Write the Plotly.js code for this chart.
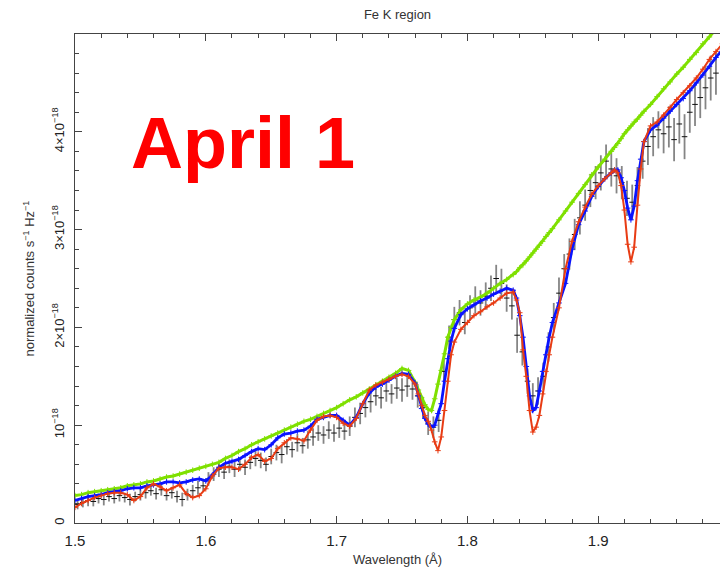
<!DOCTYPE html>
<html>
<head>
<meta charset="utf-8">
<script src="https://cdn.plot.ly/plotly-3.0.1.min.js"></script>
<style>html,body{margin:0;padding:0;background:#fff;}#chart{width:720px;height:570px;}</style>
</head>
<body>
<div id="chart"></div>
<script>
// Observed spectrum (wavelength in Å, flux in units of 1e-18)
const wave = [1.502,1.506,1.510,1.514,1.518,1.522,1.526,1.530,1.534,1.538,1.542,1.546,1.550,1.554,1.558,1.562,1.566,1.570,1.574,1.578,1.582,1.586,1.590,1.594,1.598,
1.602,1.606,1.610,1.614,1.618,1.622,1.626,1.630,1.634,1.638,1.642,1.646,1.650,1.654,1.658,1.662,1.666,1.670,1.674,1.678,1.682,1.686,1.690,1.694,1.698,
1.702,1.706,1.710,1.714,1.718,1.722,1.726,1.730,1.734,1.738,1.742,1.746,1.750,1.754,1.758,1.762,1.766,1.770,1.774,1.778,1.782,1.786,1.790,1.794,1.798,
1.802,1.806,1.810,1.814,1.818,1.822,1.826,1.830,1.834,1.838,1.842,1.846,1.850,1.854,1.858,1.862,1.866,1.870,1.874,1.878,1.882,1.886,1.890,1.894,1.898,
1.902,1.906,1.910,1.914,1.918,1.922,1.926,1.930,1.934,1.938,1.942,1.946,1.950,1.954,1.958,1.962,1.966,1.970,1.974,1.978,1.982,1.986,1.990];
const flux = [0.19,0.21,0.23,0.22,0.25,0.24,0.27,0.25,0.28,0.26,0.24,0.27,0.29,0.31,0.33,0.30,0.34,0.28,0.31,0.27,0.24,0.29,0.33,0.36,0.38,
0.45,0.50,0.55,0.52,0.58,0.55,0.60,0.57,0.62,0.66,0.64,0.60,0.68,0.72,0.70,0.78,0.75,0.82,0.79,0.85,0.88,0.92,0.90,0.95,0.92,
0.97,0.94,0.99,1.08,1.12,1.18,1.24,1.30,1.28,1.35,1.32,1.38,1.36,1.40,1.37,1.30,1.18,1.02,0.98,1.05,1.55,1.90,2.08,2.15,2.05,
2.20,2.28,2.25,2.32,2.40,2.50,2.45,2.30,2.22,1.92,1.75,1.45,1.30,1.35,1.50,1.80,2.10,2.35,2.60,2.75,2.95,3.12,3.25,3.40,3.48,
3.58,3.70,3.62,3.55,3.48,3.32,3.28,3.45,3.70,3.85,3.95,4.02,3.98,4.05,3.92,4.08,3.95,4.20,4.28,4.35,4.45,4.55,4.60];
const fluxErr = [0.05,0.05,0.06,0.05,0.05,0.06,0.05,0.05,0.06,0.05,0.06,0.05,0.06,0.06,0.05,0.06,0.06,0.05,0.06,0.06,0.07,0.06,0.06,0.07,0.06,
0.07,0.07,0.08,0.07,0.07,0.08,0.07,0.08,0.07,0.08,0.08,0.07,0.08,0.08,0.09,0.08,0.08,0.09,0.08,0.09,0.09,0.08,0.09,0.09,0.09,
0.10,0.09,0.10,0.10,0.11,0.10,0.11,0.10,0.11,0.11,0.10,0.11,0.12,0.11,0.11,0.12,0.11,0.12,0.11,0.12,0.13,0.12,0.13,0.13,0.12,
0.13,0.14,0.13,0.14,0.13,0.14,0.15,0.14,0.14,0.18,0.14,0.13,0.13,0.14,0.14,0.15,0.15,0.16,0.15,0.16,0.16,0.17,0.16,0.17,0.17,
0.18,0.17,0.18,0.18,0.17,0.18,0.18,0.19,0.18,0.19,0.20,0.19,0.20,0.21,0.22,0.20,0.23,0.21,0.22,0.21,0.22,0.23,0.22];

// Model curves (same wavelength grid)
const modelWave = [1.500,1.505,1.510,1.515,1.520,1.525,1.530,1.535,1.540,1.545,1.550,1.555,1.560,1.565,1.570,1.575,1.580,1.585,1.590,1.595,
1.600,1.605,1.610,1.615,1.620,1.625,1.630,1.635,1.640,1.645,1.650,1.655,1.660,1.665,1.670,1.675,1.680,1.685,1.690,1.695,
1.700,1.705,1.710,1.715,1.720,1.725,1.730,1.735,1.740,1.745,1.750,1.755,1.760,
1.7625,1.765,1.7675,1.770,1.7725,1.775,1.7775,1.780,1.7825,1.785,1.7875,1.790,
1.795,1.800,1.805,1.810,1.815,1.820,1.825,1.830,1.835,
1.8375,1.840,1.8425,1.845,1.8475,1.850,1.8525,1.855,1.8575,1.860,1.8625,1.865,
1.870,1.875,1.880,1.885,1.890,1.895,1.900,1.905,1.910,
1.9125,1.915,1.9175,1.920,1.9225,1.925,1.9275,1.930,1.9325,1.935,
1.940,1.945,1.950,1.955,1.960,1.965,1.970,1.975,1.980,1.985,1.990,1.995];
const greenModel = [0.28,0.29,0.31,0.32,0.33,0.34,0.35,0.36,0.38,0.39,0.40,0.42,0.43,0.45,0.47,0.48,0.50,0.52,0.54,0.56,
0.58,0.60,0.62,0.66,0.69,0.73,0.76,0.80,0.83,0.86,0.89,0.92,0.95,0.98,1.01,1.04,1.06,1.09,1.12,1.15,
1.18,1.22,1.26,1.29,1.33,1.37,1.41,1.45,1.49,1.53,1.58,1.56,1.44,
1.36,1.28,1.21,1.16,1.15,1.27,1.42,1.56,1.73,1.90,2.00,2.08,
2.18,2.24,2.28,2.31,2.35,2.40,2.45,2.49,2.54,
2.57,2.61,2.64,2.68,2.72,2.76,2.80,2.84,2.88,2.93,2.97,3.01,
3.10,3.19,3.28,3.37,3.46,3.56,3.64,3.72,3.80,
3.84,3.88,3.93,3.98,4.02,4.06,4.10,4.13,4.17,4.21,
4.28,4.36,4.44,4.51,4.59,4.66,4.74,4.81,4.90,4.97,5.05,5.12];
const blueModel = [0.23,0.25,0.27,0.28,0.29,0.31,0.32,0.33,0.35,0.36,0.36,0.38,0.39,0.40,0.42,0.42,0.41,0.42,0.44,0.45,
0.43,0.49,0.57,0.61,0.63,0.65,0.69,0.73,0.76,0.75,0.80,0.87,0.91,0.92,0.94,0.95,0.99,1.06,1.08,1.10,
1.10,1.05,1.00,1.08,1.22,1.33,1.39,1.42,1.46,1.50,1.53,1.52,1.43,
1.30,1.17,1.07,1.01,0.98,1.00,1.12,1.22,1.45,1.68,1.86,1.99,
2.13,2.19,2.23,2.27,2.30,2.34,2.37,2.40,2.38,
2.30,2.12,1.90,1.60,1.30,1.15,1.18,1.35,1.55,1.72,1.90,2.05,
2.25,2.45,2.80,3.05,3.19,3.34,3.44,3.52,3.58,
3.61,3.61,3.53,3.40,3.22,3.10,3.24,3.50,3.72,3.90,
4.02,4.07,4.14,4.21,4.28,4.34,4.42,4.50,4.58,4.67,4.76,4.84];
const redModel = [0.16,0.20,0.23,0.26,0.28,0.30,0.31,0.31,0.29,0.23,0.27,0.36,0.40,0.37,0.33,0.36,0.39,0.30,0.26,0.28,
0.35,0.48,0.56,0.57,0.57,0.55,0.60,0.67,0.70,0.63,0.66,0.76,0.82,0.87,0.86,0.84,0.95,1.05,1.09,1.10,
1.08,1.02,0.99,1.07,1.22,1.36,1.41,1.44,1.47,1.50,1.52,1.50,1.42,
1.32,1.20,1.10,1.04,0.95,0.83,0.74,0.88,1.15,1.45,1.72,1.85,
1.98,2.05,2.12,2.16,2.21,2.25,2.30,2.35,2.36,
2.28,2.15,1.77,1.50,1.15,0.93,0.98,1.10,1.32,1.55,1.72,1.90,
2.20,2.60,2.88,3.08,3.23,3.36,3.45,3.52,3.58,
3.61,3.58,3.45,3.20,2.85,2.67,2.82,3.25,3.62,3.90,
4.06,4.10,4.17,4.25,4.33,4.40,4.47,4.55,4.64,4.74,4.82,4.90];

const yTickVals = [0,1,2,3,4];
const yTickText = ['0','10<sup>−18</sup>','2×10<sup>−18</sup>','3×10<sup>−18</sup>','4×10<sup>−18</sup>'];
const xTickVals = [1.5,1.6,1.7,1.8,1.9];
const xTickText = ['1.5','1.6','1.7','1.8','1.9'];

const FONT = 'Liberation Sans, Arial, Helvetica, sans-serif';

const traces = [
  {x: wave, y: flux, type:'scatter', mode:'markers',
   marker:{symbol:'line-ew', size:4, color:'#111', line:{color:'#111', width:1}},
   error_y:{type:'data', array: fluxErr, visible:true, color:'#858585', thickness:1.8, width:0}},
  {x: modelWave, y: greenModel, type:'scatter', mode:'lines+markers',
   line:{color:'#7fe000', width:3}, marker:{symbol:'cross-thin', size:4, line:{color:'#7fe000', width:1}}},
  {x: modelWave, y: blueModel, type:'scatter', mode:'lines+markers',
   line:{color:'#0a14ff', width:2.8}, marker:{symbol:'cross-thin', size:4, line:{color:'#0a14ff', width:1}}},
  {x: modelWave, y: redModel, type:'scatter', mode:'lines+markers',
   line:{color:'#e83c14', width:2}, marker:{symbol:'cross-thin', size:4, line:{color:'#e83c14', width:1}}}
];

const layout = {
  width:720, height:570,
  margin:{l:75, r:0, t:34, b:47, pad:0},
  paper_bgcolor:'#ffffff', plot_bgcolor:'#ffffff',
  showlegend:false,
  font:{family:FONT, color:'#222'},
  title:{text:'Fe K region', font:{family:FONT, size:13, color:'#333'},
         xref:'paper', x:0.5, xanchor:'center', yref:'container', y:0.974, yanchor:'middle'},
  xaxis:{range:[1.5,1.9931], tickmode:'array', tickvals:xTickVals, ticktext:xTickText,
         ticks:'inside', ticklen:7, tickwidth:1, tickcolor:'#444',
         showline:true, linecolor:'#444', linewidth:1, mirror:'allticks',
         showgrid:false, zeroline:false, ticklabelstandoff:4,
         tickfont:{family:FONT, size:15, color:'#222'},
         minor:{tickmode:'linear', tick0:1.5, dtick:0.02, ticks:'inside', ticklen:4, tickcolor:'#444', showgrid:false},
         title:{text:'Wavelength (Å)', font:{family:FONT, size:13, color:'#333'}, standoff:6}},
  yaxis:{range:[0,5], tickmode:'array', tickvals:yTickVals, ticktext:yTickText, tickangle:-90,
         ticks:'inside', ticklen:7, tickwidth:1, tickcolor:'#444',
         showline:true, linecolor:'#444', linewidth:1, mirror:false,
         showgrid:false, zeroline:false, ticklabelstandoff:5,
         tickfont:{family:FONT, size:13, color:'#222'},
         minor:{tickmode:'linear', tick0:0, dtick:0.2, ticks:'inside', ticklen:4, tickcolor:'#444', showgrid:false},
         title:{text:'normalized counts s<sup>−1</sup> Hz<sup>−1</sup>', font:{family:FONT, size:13, color:'#333'}, standoff:12}},
  annotations:[{text:'<b>April 1</b>', xref:'paper', yref:'paper', x:0.26, y:0.777,
                xanchor:'center', yanchor:'middle', showarrow:false,
                font:{family:FONT, size:72, color:'#ff0000'}}]
};

Plotly.newPlot('chart', traces, layout, {displayModeBar:false, staticPlot:true});
</script>
</body>
</html>
